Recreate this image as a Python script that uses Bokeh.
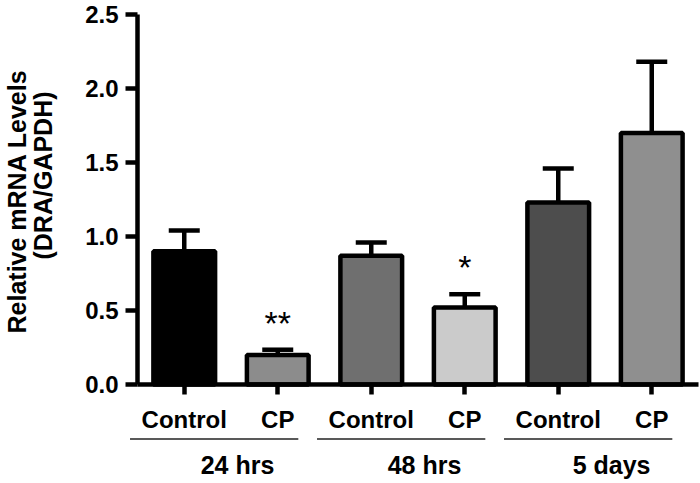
from math import pi
from bokeh.plotting import figure
from bokeh.models import (ColumnDataSource, Range1d, FixedTicker, PrintfTickFormatter,
                          Whisker, TeeHead)
from bokeh.core.properties import value
from bokeh.embed import file_html
from bokeh.resources import INLINE

# ---- data ----
groups = ["24 hrs", "48 hrs", "5 days"]
conditions = ["Control", "CP", "Control", "CP", "Control", "CP"]
means = [0.90, 0.20, 0.87, 0.52, 1.23, 1.70]
sem = [0.14, 0.035, 0.09, 0.09, 0.23, 0.48]
colors = ["#000000", "#8c8c8c", "#6f6f6f", "#cbcbcb", "#4d4d4d", "#8f8f8f"]
stars = ["", "**", "", "*", "", ""]
y_ticks = [0.0, 0.5, 1.0, 1.5, 2.0, 2.5]
y_title = ["Relative mRNA Levels", "(DRA/GAPDH)"]

FONT = "Liberation Sans"
LW = 4.5

xs = list(range(len(conditions)))
upper = [m + s for m, s in zip(means, sem)]

# ---- layout: the frame covers the whole canvas; pixel <-> data helpers ----
W, H = 700, 483
AX_LEFT, AX_RIGHT = 137, 698      # page columns of the x-axis ends
AX_BOTTOM, AX_TOP = 384, 14       # page rows of y=0 and y=2.5
x_lo, x_hi = xs[0] - 0.5, xs[-1] + 0.5
SX = (AX_RIGHT - AX_LEFT) / (x_hi - x_lo)
SY = (AX_BOTTOM - AX_TOP) / (y_ticks[-1] - y_ticks[0])
def dx(px):
    return x_lo + (px - AX_LEFT) / SX
def dy(py):
    return (AX_BOTTOM - py) / SY

src = ColumnDataSource(dict(x=xs, top=means, upper=upper, color=colors, star=stars))

p = figure(width=W, height=H, x_range=Range1d(dx(0), dx(W)), y_range=Range1d(dy(H), dy(0)),
           output_backend="svg", toolbar_location=None,
           min_border_left=0, min_border_right=0, min_border_top=0, min_border_bottom=0)
p.outline_line_color = None
p.grid.visible = False

# error bars (behind bars)
wh = Whisker(source=src, base="x", lower="top", upper="upper",
             lower_head=None,
             upper_head=TeeHead(size=31, line_width=LW, line_color="black", line_cap="butt"),
             line_width=LW, line_color="black", line_cap="butt", level="underlay")
p.add_layout(wh)

p.vbar(x="x", top="top", bottom=0, width=0.66, fill_color="color",
       line_color="black", line_width=LW, source=src)

# significance stars
p.text(x="x", y="upper", text="star", source=src, y_offset=-27, text_align="center",
       text_baseline="middle", text_font=value(FONT), text_font_size="34px",
       text_color="black")

# ---- axes (fixed at x=-0.5 and y=0) ----
def style(ax):
    ax.axis_line_width = LW
    ax.axis_line_color = "black"
    ax.axis_line_cap = "butt"
    ax.major_tick_line_width = LW
    ax.major_tick_line_color = "black"
    ax.major_tick_in = 0
    ax.minor_tick_line_color = None
    ax.major_label_text_font = FONT
    ax.major_label_text_font_style = "bold"
    ax.major_label_text_color = "black"

yax = p.yaxis[0]
style(yax)
yax.fixed_location = x_lo
yax.bounds = (y_ticks[0], y_ticks[-1])
yax.ticker = FixedTicker(ticks=y_ticks)
yax.formatter = PrintfTickFormatter(format="%.1f")
yax.major_tick_out = 12
yax.major_label_standoff = 7
yax.major_label_text_font_size = "24px"

xax = p.xaxis[0]
style(xax)
xax.fixed_location = y_ticks[0]
xax.bounds = (x_lo, x_hi)
xax.ticker = FixedTicker(ticks=xs)
xax.major_label_overrides = {x: c for x, c in zip(xs, conditions)}
xax.major_tick_out = 10
xax.major_label_standoff = 11
xax.major_label_text_font_size = "24px"

# ---- group underlines and labels ----
gx0 = [xs[2 * i] - 0.58 for i in range(len(groups))]
gx1 = [xs[2 * i + 1] + 0.22 for i in range(len(groups))]
gxc = [(xs[2 * i] + xs[2 * i + 1]) / 2 + 0.07 for i in range(len(groups))]
gy = dy(438.5)
p.segment(x0=gx0, x1=gx1, y0=[gy] * len(groups), y1=[gy] * len(groups),
          line_width=1.6, line_color="#222222")
p.text(x=gxc, y=[dy(464)] * len(groups), text=groups, text_align="center",
       text_baseline="middle", text_font=value(FONT), text_font_style="bold",
       text_font_size="25px", text_color="black")

# ---- y-axis title (two rotated lines) ----
p.text(x=[dx(16), dx(42)], y=[dy(201), dy(175)], text=y_title, angle=pi / 2,
       text_align="center", text_baseline="middle", text_font=value(FONT),
       text_font_style="bold", text_font_size="25px", text_color="black")

open("out.html", "w").write(file_html(p, INLINE))
